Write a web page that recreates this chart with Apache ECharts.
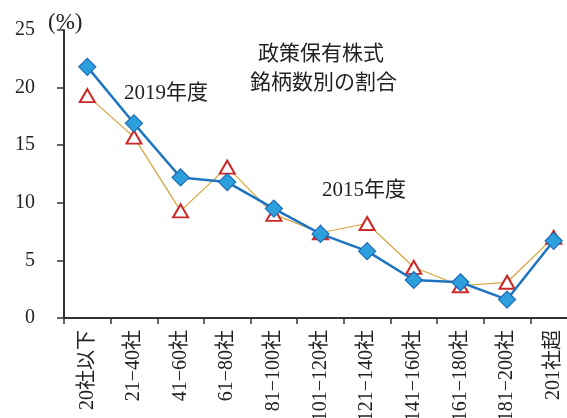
<!DOCTYPE html>
<html>
<head>
<meta charset="utf-8">
<style>
  html, body { margin: 0; padding: 0; background: #fff; }
  #chart { width: 567px; height: 418px; }
</style>
<script src="https://cdn.jsdelivr.net/npm/echarts@6/dist/echarts.min.js"></script>
</head>
<body>
<div id="chart"></div>
<script>
// 保有銘柄数の区分
const categories = ['20社以下', '21−40社', '41−60社', '61−80社', '81−100社', '101−120社',
  '121−140社', '141−160社', '161−180社', '181−200社', '201社超'];
// 各区分の企業割合（%）
const share2019 = [21.8, 16.9, 12.2, 11.8, 9.5, 7.3, 5.8, 3.3, 3.1, 1.6, 6.7];
const share2015 = [19.3, 15.7, 9.3, 13.1, 9.0, 7.4, 8.2, 4.4, 2.8, 3.1, 7.0];
const yTicks = { min: 0, max: 25, interval: 5 };

const FONT = "'Liberation Serif', 'DejaVu Serif', 'Noto Sans CJK JP', serif";
const TEXT = '#222';
const AXIS = '#333';

const chart = echarts.init(document.getElementById('chart'), null, { renderer: 'canvas' });
chart.setOption({
  animation: false,
  backgroundColor: '#fff',
  textStyle: { fontFamily: FONT, color: TEXT },
  grid: { left: 64, top: 30, width: 513, bottom: 100, containLabel: false, outerBoundsMode: 'none' },
  xAxis: {
    type: 'category',
    data: categories,
    boundaryGap: true,
    axisLine: { lineStyle: { color: AXIS, width: 2 } },
    axisTick: { show: true, alignWithLabel: false, length: 6, lineStyle: { color: AXIS, width: 1.5 } },
    axisLabel: { rotate: 90, margin: 12, fontSize: 20, color: TEXT, fontFamily: FONT, interval: 0 },
    splitLine: { show: false }
  },
  yAxis: {
    type: 'value',
    min: yTicks.min, max: yTicks.max, interval: yTicks.interval,
    name: '(%)',
    nameLocation: 'end',
    nameGap: -4,
    nameTextStyle: { fontSize: 23, color: TEXT, fontFamily: FONT, align: 'left', padding: [0, 0, 0, -16] },
    axisLine: { show: true, lineStyle: { color: AXIS, width: 2 } },
    axisTick: { show: true, inside: false, length: 7, lineStyle: { color: AXIS, width: 1.5 } },
    axisLabel: { fontSize: 20, color: TEXT, fontFamily: FONT, margin: 29 },
    splitLine: { show: false }
  },
  graphic: [
    { type: 'text', left: 258, top: 44, style: { text: '政策保有株式', fill: TEXT, font: "21px " + FONT } },
    { type: 'text', left: 250, top: 73, style: { text: '銘柄数別の割合', fill: TEXT, font: "21px " + FONT } },
    { type: 'text', left: 124, top: 83, style: { text: '2019年度', fill: TEXT, font: "21px " + FONT } },
    { type: 'text', left: 322, top: 180, style: { text: '2015年度', fill: TEXT, font: "21px " + FONT } }
  ],
  series: [
    {
      name: '2015年度',
      type: 'line',
      data: share2015,
      symbol: 'triangle',
      symbolSize: [15, 13],
      showAllSymbol: true,
      lineStyle: { color: '#d6a33a', width: 1.2 },
      itemStyle: { color: '#ffffff', borderColor: '#cc2a2a', borderWidth: 2 },
      z: 2
    },
    {
      name: '2019年度',
      type: 'line',
      data: share2019,
      symbol: 'diamond',
      symbolSize: 17,
      showAllSymbol: true,
      lineStyle: { color: '#1f74c2', width: 2.5 },
      itemStyle: { color: '#2e9fdd', borderColor: '#1d6cb8', borderWidth: 1.2 },
      z: 3
    }
  ]
});
</script>
</body>
</html>
